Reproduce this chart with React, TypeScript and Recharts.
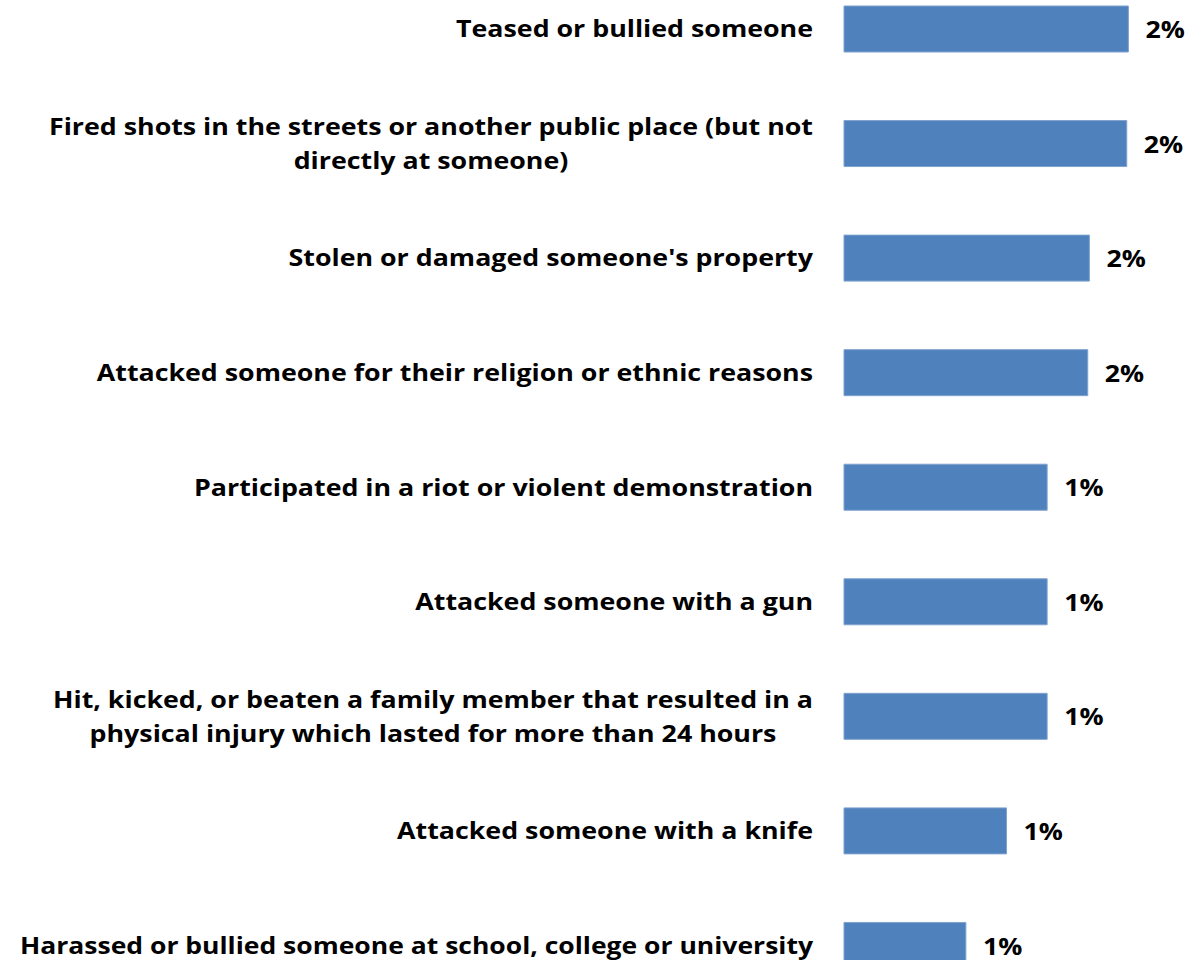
import React from 'react';
import { BarChart, Bar, XAxis, YAxis, LabelList } from 'recharts';

// category labels, one line per entry (multi-line labels wrap the way the source does)
const categories: string[][] = [
  ['Teased or bullied someone'],
  ['Fired shots in the streets or another public place (but not', 'directly at someone)'],
  ["Stolen or damaged someone's property"],
  ['Attacked someone for their religion or ethnic reasons'],
  ['Participated in a riot or violent demonstration'],
  ['Attacked someone with a gun'],
  ['Hit, kicked, or beaten a family member that resulted in a', 'physical injury which lasted for more than 24 hours'],
  ['Attacked someone with a knife'],
  ['Harassed or bullied someone at school, college or university'],
];

// share of respondents, in percent
const values: number[] = [1.75, 1.74, 1.51, 1.5, 1.25, 1.25, 1.25, 1.0, 0.75];

const data = categories.map((lines, i) => ({
  name: lines.join(' '),
  lines,
  value: values[i],
}));

const FONT = '"Open Sans", "DejaVu Sans", sans-serif';
const FONT_SIZE = 22.5;
const STRETCH = 1.19; // source text is drawn wider than the font's natural width
const LINE_HEIGHT = 34;
const MAX_LABEL_WIDTH = 793;

let ctx: CanvasRenderingContext2D | null = null;
const measure = (s: string) => {
  if (!ctx) ctx = document.createElement('canvas').getContext('2d');
  if (!ctx) return s.length * FONT_SIZE * 0.55;
  ctx.font = `bold ${FONT_SIZE}px ${FONT}`;
  return ctx.measureText(s).width;
};

const StretchedText = ({ x, y, anchor, text, maxWidth }: any) => {
  let w = measure(text) * STRETCH;
  if (maxWidth && w > maxWidth) w = maxWidth;
  return (
    <text
      x={x}
      y={y}
      dy="0.36em"
      textAnchor={anchor}
      fontFamily={FONT}
      fontWeight="bold"
      fontSize={FONT_SIZE}
      fill="#000"
      textLength={w}
      lengthAdjust="spacingAndGlyphs"
    >
      {text}
    </text>
  );
};

const CategoryTick = (props: any) => {
  const { x, y, index } = props;
  const lines = data[index]?.lines ?? [String(props.payload.value)];
  const widths = lines.map((l: string) => Math.min(measure(l) * STRETCH, MAX_LABEL_WIDTH));
  const blockWidth = Math.max(...widths);
  const cx = x - blockWidth / 2;
  const firstY = y - ((lines.length - 1) * LINE_HEIGHT) / 2;
  return (
    <g>
      {lines.map((l: string, i: number) => (
        <StretchedText key={i} x={cx} y={firstY + i * LINE_HEIGHT} anchor="middle" text={l} maxWidth={MAX_LABEL_WIDTH} />
      ))}
    </g>
  );
};

const ValueLabel = (props: any) => {
  const { x, y, width, height, value } = props;
  return (
    <StretchedText
      x={Number(x) + Number(width) + 17}
      y={Number(y) + Number(height) / 2 + 1}
      anchor="start"
      text={`${Math.round(Number(value))}%`}
    />
  );
};

export default function App() {
  return (
    <div style={{ position: 'absolute', left: 0, top: 0, width: 1187, height: 960, overflow: 'hidden', background: '#fff' }}>
      <div style={{ position: 'absolute', left: 0, top: -28 }}>
        <BarChart
          width={1187}
          height={1031}
          data={data}
          layout="vertical"
          margin={{ top: 0, right: 18, bottom: 0, left: 0 }}
        >
          <XAxis type="number" domain={[0, 2]} hide />
          <YAxis
            type="category"
            dataKey="name"
            width={844}
            axisLine={false}
            tickLine={false}
            tickSize={0}
            tickMargin={31}
            interval={0}
            tick={<CategoryTick />}
          />
          <Bar dataKey="value" fill="#4F81BD" stroke="#7FA2CF" strokeWidth={1} barSize={46} isAnimationActive={false}>
            <LabelList dataKey="value" content={<ValueLabel />} />
          </Bar>
        </BarChart>
      </div>
    </div>
  );
}
